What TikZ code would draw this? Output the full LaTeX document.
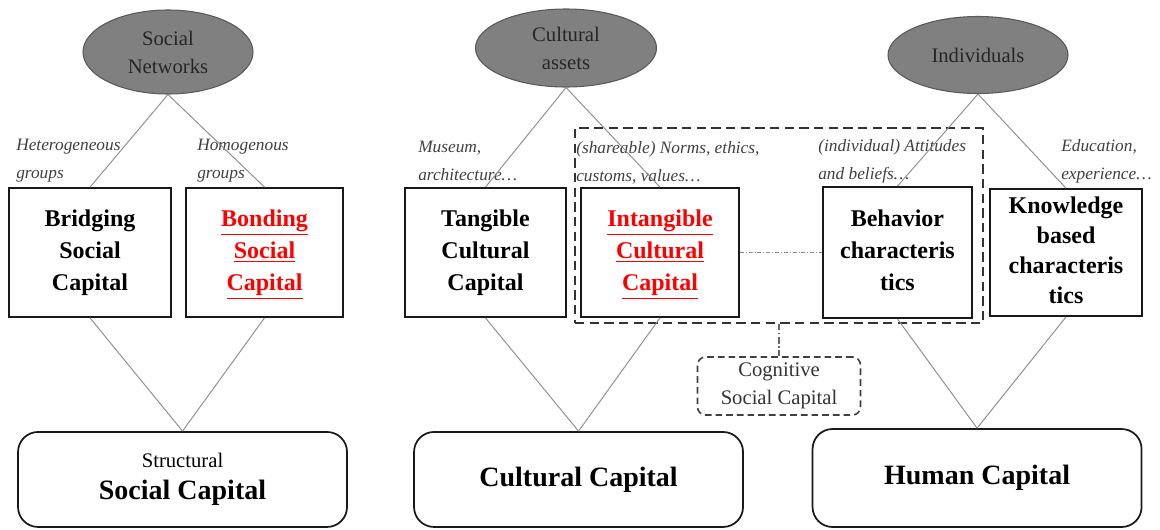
\documentclass[tikz,border=0pt]{standalone}
\usepackage{fontspec}
\setmainfont{Liberation Serif}
\usepackage{tikz}
\usetikzlibrary{positioning}
\usetikzlibrary{shapes,fit}
\tikzset{
    capbox/.style={
           rectangle,
           draw=black!90, line width=1.3pt,
           minimum height=96.75pt,
           inner sep=0pt,
           text centered,
           font=\fontsize{18}{24}\selectfont\bfseries,
           },
    sourceell/.style={
           ellipse,
           draw=black!65, fill=black!50,
           line width=0.8pt,
           inner sep=0pt,
           text=black!85,
           align=center,
           font=\fontsize{15.5}{21}\selectfont,
           },
    totalbox/.style={
           rectangle,
           rounded corners=15pt,
           draw=black!90, line width=1.3pt,
           minimum width=246.75pt,
           minimum height=71.25pt,
           inner sep=0pt,
           align=center,
           font=\fontsize{21}{24}\selectfont\bfseries,
           },
    cogbox/.style={
           rectangle,
           rounded corners=6pt,
           draw=black!75, line width=1.2pt,
           dash pattern=on 5pt off 3pt,
           minimum width=122.25pt,
           minimum height=43.5pt,
           inner sep=0pt,
           align=center,
           text=black!80,
           font=\fontsize{15.5}{21}\selectfont,
           },
    framebox/.style={
           rectangle,
           draw=black!80, line width=1.2pt,
           dash pattern=on 7pt off 4pt,
           minimum width=306pt,
           minimum height=146.25pt,
           inner sep=0pt,
           },
    example/.style={
           anchor=west,
           inner sep=0pt,
           align=left,
           text=black!75,
           font=\fontsize{13}{21}\selectfont\itshape,
           },
    link/.style={draw=black!45, line width=0.7pt},
    dotlink/.style={draw=black!45, line width=0.5pt, dash pattern=on 3pt off 1.5pt on 0.6pt off 1.5pt},
    cogline/.style={draw=black!60, line width=0.8pt, dash pattern=on 5pt off 2pt on 1pt off 2pt},
}

\begin{document}
\begin{tikzpicture}

 \useasboundingbox (0,0) rectangle (870pt,-396.75pt);

 % dashed frame round the shared characteristics
 \node[framebox] (FRAME) at (584.25pt,-169.1pt) {};

 % SOURCES
 \node[sourceell, minimum width=127.5pt, minimum height=63pt] (SN) at (126pt,-39pt) {Social\\Networks};
 \node[sourceell, minimum width=135.75pt, minimum height=58.5pt] (CA) at (424.5pt,-36pt) {Cultural\\assets};
 \node[sourceell, minimum width=135pt, minimum height=57.75pt] (IND) at (733.5pt,-41.25pt) {Individuals};

 % BRIDGING
 \node[capbox,
 minimum width=121.5pt] (BRIDGE) at (67.5pt,-189.4pt)
 {%
 \begin{tabular}{c}
  Bridging\\ Social\\ Capital
 \end{tabular}
 };

 % Next node: BONDING
 \node[capbox,
 node distance=130.9pt,
 right of=BRIDGE,
 minimum width=117.75pt,
 text=red] (BOND)
 {%
 \begin{tabular}{c}
  \underline{Bonding}\\ \underline{Social}\\ \underline{Capital}
 \end{tabular}
 };

 % TANGIBLE
 \node[capbox,
 minimum width=120.75pt] (TANG) at (364.1pt,-189.4pt)
 {%
 \begin{tabular}{c}
  Tangible\\ Cultural\\ Capital
 \end{tabular}
 };

 % INTANGIBLE
 \node[capbox,
 node distance=130.9pt,
 right of=TANG,
 minimum width=118.5pt,
 text=red] (INTANG)
 {%
 \begin{tabular}{c}
  \underline{Intangible}\\ \underline{Cultural}\\ \underline{Capital}
 \end{tabular}
 };

 % BEHAVIOR
 \node[capbox,
 node distance=178.1pt,
 right of=INTANG,
 minimum width=111.75pt,
 minimum height=98.25pt] (BEHAV)
 {%
 \begin{tabular}{c}
  Behavior\\ characteris\\ tics
 \end{tabular}
 };

 % KNOWLEDGE
 \node[capbox,
 node distance=126.4pt,
 right of=BEHAV,
 minimum width=114pt,
 minimum height=95.25pt,
 font=\fontsize{18}{22.5}\selectfont\bfseries] (KNOW)
 {%
 \begin{tabular}{c}
  Knowledge\\ based\\ characteris\\ tics
 \end{tabular}
 };

 % CAPITALS
 \node[totalbox] (STRUCT) at (136.9pt,-359.6pt)
 {{\fontsize{15.5}{18}\mdseries Structural}\\ Social Capital};
 \node[totalbox,
 node distance=297pt,
 right of=STRUCT] (CULT) {Cultural Capital};
 \node[totalbox,
 node distance=298.9pt,
 right of=CULT,
 yshift=1.1pt,
 minimum height=73.5pt] (HUMAN) {Human Capital};

 % COGNITIVE
 \node[cogbox,
 node distance=120.4pt,
 below of=FRAME] (COGN) {Cognitive\\Social Capital};

 % examples on the links
 \node[example] (HETLBL) at (12pt,-120.75pt) {Heterogeneous\\groups};
 \node[example] (HOMLBL) at (147.75pt,-120.75pt) {Homogenous\\groups};
 \node[example] (MUSLBL) at (313.5pt,-120.75pt) {Museum,\\architecture…};
 \node[example] (NORMLBL) at (432pt,-122.25pt) {(shareable) Norms, ethics,\\customs, values…};
 \node[example] (ATTLBL) at (613.5pt,-120.75pt) {(individual) Attitudes\\and beliefs…};
 \node[example] (EDULBL) at (795.75pt,-120.75pt) {Education,\\experience…};

 % links
 \path[link]
 (SN.south) edge (BRIDGE.north)
 (SN.south) edge (BOND.north)
 (BRIDGE.south) edge (STRUCT.north)
 (BOND.south) edge (STRUCT.north)
 (CA.south) edge (TANG.north)
 (CA.south) edge (INTANG.north)
 (TANG.south) edge (CULT.north)
 (INTANG.south) edge (CULT.north)
 (IND.south) edge (BEHAV.north)
 (IND.south) edge (KNOW.north)
 (BEHAV.south) edge (HUMAN.north)
 (KNOW.south) edge (HUMAN.north)
 ;
 \path
 (INTANG.east) edge[dotlink] (BEHAV.west)
 (FRAME.south) edge[cogline] (COGN.north)
 ;

\end{tikzpicture}
\end{document}
